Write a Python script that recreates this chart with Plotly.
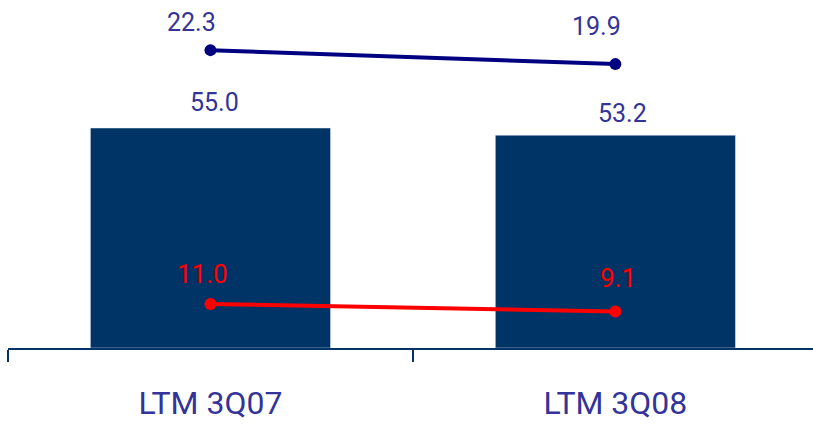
import plotly.graph_objects as go

# Periods and values
periods = ["LTM 3Q07", "LTM 3Q08"]
bar_values = [55.0, 53.2]
navy_values = [22.3, 19.9]
red_values = [11.0, 9.1]

BAR_COLOR = "#003366"
NAVY = "#000080"
LABEL_BLUE = "#333399"
RED = "#FF0000"

fig = go.Figure()

fig.add_trace(go.Bar(
    x=periods, y=bar_values, marker_color=BAR_COLOR, width=0.593,
    hoverinfo="skip",
))
fig.add_trace(go.Scatter(
    x=periods, y=red_values, mode="lines+markers",
    line=dict(color=RED, width=4), marker=dict(color=RED, size=12),
    hoverinfo="skip",
))
fig.add_trace(go.Scatter(
    x=periods, y=navy_values, mode="lines+markers", yaxis="y2",
    line=dict(color=NAVY, width=4), marker=dict(color=NAVY, size=12),
    hoverinfo="skip", cliponaxis=False,
))

label_font = dict(family="Roboto", size=25, color=LABEL_BLUE)
red_font = dict(family="Roboto", size=26, color=RED)

annotations = []
for i, (p, v) in enumerate(zip(periods, bar_values)):
    annotations.append(dict(x=p, y=v, xref="x", yref="y", text=f"{v:.1f}",
                            showarrow=False, font=label_font,
                            xshift=[4, 7][i], yshift=[26, 22][i]))
for i, (p, v) in enumerate(zip(periods, navy_values)):
    annotations.append(dict(x=p, y=v, xref="x", yref="y2", text=f"{v:.1f}",
                            showarrow=False, font=label_font,
                            xshift=[-19, -19][i], yshift=[28, 38][i]))
for i, (p, v) in enumerate(zip(periods, red_values)):
    annotations.append(dict(x=p, y=v, xref="x", yref="y", text=f"{v:.1f}",
                            showarrow=False, font=red_font,
                            xshift=[-8, 3][i], yshift=[30, 34][i]))

fig.update_layout(
    width=813, height=425,
    margin=dict(l=8, r=0, t=0, b=77),
    paper_bgcolor="white", plot_bgcolor="white",
    showlegend=False,
    annotations=annotations,
    xaxis=dict(
        type="category", range=[-0.5, 1.488],
        showline=True, linecolor=BAR_COLOR, linewidth=2,
        ticks="outside", tickson="boundaries", ticklen=12, tickwidth=2,
        tickcolor=BAR_COLOR, showgrid=False,
        tickfont=dict(family="Roboto", size=32, color=LABEL_BLUE),
        ticklabelstandoff=26,
    ),
    yaxis=dict(range=[0, 87], visible=False, showgrid=False, zeroline=False),
    yaxis2=dict(range=[-28.8, 30.9], overlaying="y", visible=False,
                showgrid=False, zeroline=False),
)

fig.write_html("out.html")
